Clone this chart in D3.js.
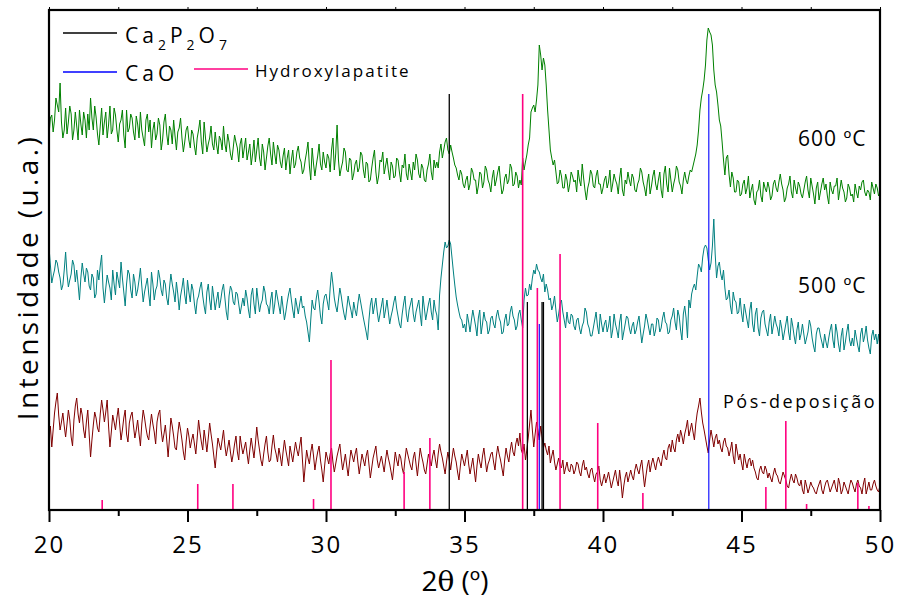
<!DOCTYPE html>
<html>
<head>
<meta charset="utf-8">
<script src="https://cdn.jsdelivr.net/npm/d3@7"></script>
<style>
  body { margin: 0; background: #fff; }
  svg text { font-family: "Open Sans", "DejaVu Sans", sans-serif; fill: #000; }
</style>
</head>
<body>
<script>
// 2theta grid of the scans: 20.00 .. 50.00 in 0.05 steps (one row = 1 degree)
const start = 20, step = 0.05;

// 600 ºC scan (green)
const scan600 = [
  375, 392, 395, 378, 390, 412, 405, 398, 427, 388, 372, 380, 402, 376, 388, 404, 396, 370, 380, 398,
  384, 370, 400, 386, 375, 398, 390, 372, 396, 380, 412, 392, 380, 404, 393, 376, 365, 384, 402, 375,
  388, 398, 372, 385, 404, 376, 380, 402, 395, 380, 368, 386, 390, 400, 375, 362, 400, 378, 382, 396,
  392, 378, 370, 394, 386, 372, 398, 380, 372, 364, 390, 396, 378, 390, 362, 380, 388, 370, 376, 392,
  385, 360, 370, 388, 396, 376, 365, 384, 380, 366, 390, 374, 360, 378, 382, 392, 372, 358, 368, 380,
  384, 370, 362, 380, 376, 364, 355, 372, 380, 390, 368, 356, 388, 372, 358, 366, 372, 384, 366, 360,
  378, 365, 356, 374, 370, 360, 384, 366, 358, 376, 368, 356, 350, 362, 375, 368, 362, 348, 366, 372,
  352, 362, 372, 350, 358, 366, 345, 356, 370, 348, 360, 372, 352, 344, 366, 358, 340, 352, 364, 372,
  356, 345, 368, 356, 346, 365, 360, 348, 342, 354, 362, 340, 352, 360, 336, 350, 360, 342, 346, 358,
  364, 352, 348, 336, 340, 350, 358, 368, 344, 330, 362, 346, 334, 345, 354, 366, 346, 340, 358, 348,
  342, 356, 352, 338, 360, 372, 340, 356, 385, 350, 334, 342, 348, 362, 358, 340, 338, 352, 350, 330,
  336, 346, 350, 338, 342, 358, 355, 340, 332, 348, 346, 328, 330, 342, 352, 360, 338, 326, 334, 350,
  348, 358, 336, 344, 352, 340, 330, 348, 344, 332, 334, 352, 350, 338, 328, 345, 342, 356, 336, 330,
  346, 338, 330, 348, 340, 356, 350, 336, 332, 346, 342, 330, 328, 340, 346, 356, 338, 330, 350, 342,
  348, 342, 358, 366, 352, 360, 368, 372, 360, 356, 365, 358, 352, 345, 342, 335, 330, 340, 336, 326,
  322, 330, 334, 320, 326, 342, 338, 330, 330, 316, 324, 338, 336, 322, 328, 344, 340, 330, 326, 318,
  332, 340, 324, 330, 338, 344, 328, 316, 320, 332, 336, 326, 330, 346, 342, 324, 326, 338, 334, 322,
  330, 325, 352, 340, 348, 355, 365, 372, 398, 402, 405, 398, 410, 425, 465, 455, 440, 452, 445, 425,
  400, 380, 360, 352, 345, 350, 338, 326, 328, 340, 334, 322, 322, 336, 330, 318, 326, 338, 334, 328,
  330, 318, 340, 330, 324, 346, 332, 320, 310, 322, 328, 340, 336, 324, 322, 334, 340, 326, 326, 316,
  322, 330, 334, 322, 328, 340, 318, 326, 336, 330, 326, 316, 332, 342, 320, 314, 330, 326, 338, 330,
  324, 336, 332, 320, 318, 326, 330, 342, 338, 328, 322, 314, 328, 336, 316, 324, 334, 340, 326, 320,
  330, 338, 320, 312, 336, 344, 326, 318, 342, 330, 318, 326, 332, 344, 340, 328, 324, 316, 330, 338,
  330, 326, 334, 340, 338, 344, 350, 356, 365, 380, 400, 412, 420, 430, 445, 470, 482, 478, 475, 465,
  440, 425, 418, 405, 390, 384, 368, 350, 335, 352, 355, 336, 323, 338, 332, 318, 318, 330, 328, 314,
  316, 326, 330, 316, 322, 334, 312, 320, 326, 310, 305, 318, 320, 330, 314, 308, 328, 322, 318, 328,
  322, 310, 314, 326, 330, 322, 318, 328, 336, 326, 320, 308, 312, 322, 326, 334, 318, 312, 330, 322,
  316, 328, 324, 316, 312, 320, 328, 334, 320, 312, 332, 324, 316, 306, 322, 328, 310, 318, 326, 332,
  320, 326, 314, 306, 328, 320, 316, 324, 324, 332, 310, 320, 330, 322, 318, 308, 312, 326, 322, 314,
  316, 308, 326, 318, 312, 324, 320, 328, 330, 318, 314, 320, 318, 310, 328, 322, 316, 326, 322, 314,
  318
];

// 500 ºC scan (teal)
const scan500 = [
  263, 245, 227, 234, 240, 250, 247, 238, 232, 220, 225, 240, 258, 236, 223, 230, 236, 250, 245, 228,
  240, 226, 210, 232, 247, 236, 228, 242, 238, 224, 220, 236, 232, 212, 216, 240, 230, 244, 255, 222,
  207, 222, 235, 228, 222, 210, 240, 226, 215, 238, 230, 222, 248, 232, 218, 204, 226, 240, 236, 220,
  212, 236, 228, 214, 220, 230, 242, 224, 208, 218, 225, 232, 216, 204, 238, 226, 210, 220, 224, 240,
  232, 220, 214, 230, 226, 212, 205, 222, 236, 226, 218, 208, 228, 216, 200, 214, 222, 232, 215, 206,
  230, 218, 208, 226, 220, 206, 196, 210, 214, 222, 228, 214, 204, 196, 218, 226, 210, 200, 224, 212,
  200, 210, 218, 202, 210, 220, 226, 212, 198, 190, 214, 224, 220, 208, 205, 218, 216, 206, 196, 204,
  212, 204, 220, 212, 200, 192, 215, 222, 206, 196, 222, 210, 198, 206, 210, 224, 218, 206, 204, 196,
  210, 218, 196, 206, 220, 212, 204, 196, 214, 202, 190, 198, 208, 216, 222, 210, 200, 192, 212, 204,
  196, 206, 214, 202, 204, 194, 188, 178, 168, 190, 210, 202, 200, 212, 220, 208, 194, 186, 206, 214,
  216, 208, 200, 222, 238, 226, 212, 204, 198, 210, 222, 214, 204, 196, 190, 202, 214, 206, 200, 192,
  208, 200, 194, 206, 216, 208, 200, 192, 185, 178, 170, 190, 205, 212, 196, 204, 212, 198, 188, 196,
  204, 212, 192, 200, 210, 198, 186, 194, 200, 208, 214, 202, 194, 186, 182, 196, 206, 214, 196, 188,
  200, 206, 212, 196, 188, 198, 204, 210, 196, 184, 214, 202, 190, 198, 206, 212, 198, 190, 210, 200,
  195, 180, 215, 232, 245, 258, 268, 262, 264, 270, 266, 252, 238, 225, 213, 205, 198, 192, 190, 182,
  186, 178, 196, 188, 178, 190, 200, 192, 184, 174, 192, 200, 176, 186, 198, 190, 188, 176, 180, 192,
  194, 186, 182, 194, 200, 192, 188, 176, 178, 190, 196, 184, 186, 198, 204, 194, 190, 180, 184, 196,
  200, 190, 182, 210, 222, 214, 215, 226, 220, 232, 240, 236, 246, 240, 238, 232, 228, 236, 218, 226,
  220, 210, 212, 200, 205, 214, 200, 188, 196, 206, 210, 198, 190, 182, 198, 188, 186, 196, 194, 184,
  180, 190, 192, 182, 176, 184, 188, 202, 198, 186, 182, 174, 174, 182, 190, 198, 184, 176, 196, 186,
  178, 186, 190, 178, 184, 194, 172, 180, 196, 186, 180, 172, 188, 196, 170, 178, 186, 194, 192, 182,
  176, 184, 188, 176, 180, 188, 194, 180, 167, 176, 184, 196, 190, 182, 175, 186, 186, 174, 180, 192,
  190, 178, 182, 192, 198, 188, 186, 176, 178, 190, 194, 202, 188, 180, 200, 194, 180, 170, 196, 204,
  192, 172, 210, 202, 216, 222, 226, 220, 234, 246, 243, 238, 253, 262, 265, 262, 250, 240, 247, 264,
  291, 256, 232, 244, 248, 236, 230, 240, 222, 210, 212, 220, 204, 196, 218, 210, 208, 196, 198, 212,
  197, 188, 206, 198, 190, 182, 200, 208, 186, 178, 196, 202, 182, 174, 192, 198, 200, 186, 180, 174,
  188, 196, 176, 184, 194, 186, 182, 174, 190, 182, 170, 178, 186, 194, 178, 170, 192, 184, 174, 166,
  180, 188, 170, 176, 186, 176, 166, 172, 178, 190, 184, 172, 164, 158, 176, 182, 182, 174, 168, 162,
  176, 168, 162, 172, 180, 186, 170, 162, 186, 178, 166, 158, 174, 182, 160, 168, 178, 186, 170, 164,
  172, 164, 180, 172, 164, 158, 176, 182, 168, 174, 184, 170, 162, 156, 174, 180, 170, 176, 166, 176,
  160
];

// as-deposited scan (dark red)
const scanPos = [
  70, 84, 63, 80, 97, 108, 117, 95, 80, 88, 97, 84, 73, 86, 100, 90, 73, 64, 90, 104,
  112, 96, 87, 102, 95, 80, 72, 88, 100, 76, 53, 70, 85, 98, 92, 82, 78, 96, 110, 100,
  88, 98, 110, 84, 63, 78, 95, 88, 80, 92, 102, 86, 70, 80, 92, 100, 76, 68, 87, 94,
  98, 84, 72, 80, 90, 76, 64, 86, 100, 92, 82, 74, 70, 84, 96, 86, 78, 66, 88, 96,
  100, 80, 68, 76, 85, 70, 53, 72, 92, 84, 74, 62, 60, 76, 88, 80, 70, 58, 50, 68,
  82, 74, 62, 70, 76, 66, 56, 72, 90, 78, 68, 60, 80, 70, 58, 72, 87, 76, 66, 54,
  42, 58, 72, 66, 60, 70, 80, 64, 54, 62, 70, 58, 48, 56, 66, 74, 58, 50, 74, 64,
  56, 62, 68, 56, 46, 60, 72, 62, 52, 66, 83, 70, 60, 50, 44, 56, 66, 74, 58, 48,
  50, 64, 75, 62, 56, 48, 62, 54, 44, 58, 70, 60, 52, 44, 64, 56, 48, 58, 68, 60,
  54, 64, 73, 50, 28, 44, 60, 52, 46, 58, 66, 54, 40, 50, 58, 64, 50, 40, 28, 44,
  58, 52, 46, 56, 62, 48, 38, 46, 54, 60, 66, 52, 40, 48, 56, 44, 34, 48, 60, 54,
  48, 56, 62, 48, 36, 46, 56, 50, 44, 54, 60, 46, 32, 42, 52, 58, 64, 50, 42, 48,
  54, 46, 38, 50, 60, 52, 46, 38, 30, 44, 58, 50, 44, 56, 52, 42, 36, 50, 62, 56,
  50, 44, 40, 52, 58, 46, 34, 48, 62, 54, 48, 40, 36, 46, 56, 50, 44, 54, 60, 50,
  42, 56, 66, 58, 52, 44, 36, 48, 58, 50, 40, 52, 62, 54, 48, 38, 30, 44, 56, 50,
  44, 52, 60, 46, 36, 44, 52, 40, 28, 44, 56, 48, 42, 54, 62, 50, 38, 46, 50, 56,
  58, 48, 40, 54, 64, 56, 50, 42, 34, 50, 62, 54, 48, 60, 68, 58, 54, 66, 72, 64,
  77, 60, 56, 66, 50, 60, 72, 86, 100, 80, 63, 76, 88, 80, 70, 84, 73, 62, 67, 60,
  55, 64, 47, 54, 60, 48, 40, 46, 52, 44, 42, 50, 36, 42, 48, 40, 38, 46, 44, 36,
  40, 48, 46, 38, 34, 44, 50, 40, 43, 36, 32, 40, 42, 34, 28, 36, 38, 44, 30, 24,
  30, 36, 27, 32, 38, 30, 22, 28, 34, 40, 30, 24, 40, 28, 12, 24, 33, 38, 28, 34,
  40, 34, 30, 40, 46, 40, 36, 44, 50, 36, 23, 34, 44, 50, 38, 46, 52, 46, 40, 48,
  53, 48, 44, 54, 60, 52, 50, 62, 66, 58, 70, 62, 58, 70, 76, 68, 80, 74, 66, 76,
  82, 90, 74, 80, 87, 78, 70, 86, 97, 104, 112, 98, 87, 80, 72, 64, 57, 70, 80, 72,
  63, 72, 76, 66, 70, 62, 58, 68, 72, 64, 62, 54, 60, 68, 54, 46, 66, 58, 50, 56,
  47, 40, 56, 48, 42, 50, 52, 44, 50, 42, 38, 32, 30, 40, 44, 38, 36, 44, 40, 32,
  37, 32, 28, 36, 42, 36, 34, 28, 26, 32, 38, 34, 30, 24, 22, 30, 36, 30, 27, 36,
  32, 26, 24, 30, 20, 16, 30, 24, 17, 22, 28, 24, 22, 18, 16, 22, 26, 30, 20, 16,
  23, 28, 30, 24, 18, 22, 26, 30, 22, 18, 32, 26, 16, 20, 28, 24, 20, 16, 24, 30,
  27, 22, 18, 26, 30, 24, 22, 16, 26, 32, 16, 22, 28, 20, 20, 26, 30, 24, 20, 18,
  25
];

// reference patterns: positions (2theta) and stick heights
const ca2p2o7Pos = [34.45, 37.27, 37.80, 37.85];
const ca2p2o7Int = [416, 208, 208, 208];
const caoPos = [37.70, 43.82];
const caoInt = [186, 416];
const hapPos = [21.92, 25.37, 26.64, 29.55, 30.18, 32.82, 33.75, 37.10, 37.63, 38.45, 39.81, 41.44, 45.88, 46.60, 47.35, 49.20, 49.60];
const hapInt = [10, 26, 26, 11, 150, 38, 72, 416, 222, 256, 87, 17, 23, 89, 6, 27, 4];

const majorTicks = [20, 25, 30, 35, 40, 45, 50];
const minorTicks = [22.5, 27.5, 32.5, 37.5, 42.5, 47.5];

const W = 897, H = 600;
const margin = { top: 10, right: 17, bottom: 90, left: 49 };

const svg = d3.select("body").append("svg")
  .attr("width", W)
  .attr("height", H);

const x = d3.scaleLinear().domain([20, 50]).range([margin.left, W - margin.right]);
const y = d3.scaleLinear().domain([0, 500]).range([H - margin.bottom, margin.top]);

const line = d3.line()
  .x(function (d, i) { return x(start + i * step); })
  .y(function (d) { return y(d); });

// scans
const scans = [
  { values: scan600, color: "#008000" },
  { values: scan500, color: "#008080" },
  { values: scanPos, color: "#800000" }
];
scans.forEach(function (s) {
  svg.append("path")
    .datum(s.values)
    .attr("fill", "none")
    .attr("stroke", s.color)
    .attr("stroke-width", 1)
    .attr("stroke-linejoin", "round")
    .attr("d", line);
});

// stick patterns
function sticks(pos, inten, color, width) {
  svg.append("g").selectAll("line")
    .data(pos)
    .enter()
    .append("line")
    .attr("x1", function (d) { return x(d); })
    .attr("x2", function (d) { return x(d); })
    .attr("y1", y(0))
    .attr("y2", function (d, i) { return y(inten[i]); })
    .attr("stroke", color)
    .attr("stroke-width", width);
}
sticks(hapPos, hapInt, "#ff0080", 1.6);
sticks(ca2p2o7Pos, ca2p2o7Int, "#000", 1.3);
sticks(caoPos, caoInt, "#0000ff", 1.1);

// axes
const bottom = H - margin.bottom;
const gx = svg.append("g")
  .attr("transform", "translate(0," + bottom + ")")
  .call(d3.axisBottom(x).tickValues(majorTicks).tickSize(12).tickPadding(14).tickFormat(d3.format("d")));
gx.select(".domain").remove();
gx.selectAll("line").attr("stroke-width", 2);
gx.selectAll("text")
  .style("font-size", "24px")
  .style("letter-spacing", "2px")
  .style("font-family", "'Open Sans', sans-serif");

const gxm = svg.append("g")
  .attr("transform", "translate(0," + bottom + ")")
  .call(d3.axisBottom(x).tickValues(minorTicks).tickSize(6).tickFormat(""));
gxm.select(".domain").remove();
gxm.selectAll("line").attr("stroke-width", 2);

const gt = svg.append("g")
  .attr("transform", "translate(0," + margin.top + ")")
  .call(d3.axisTop(x).tickValues(majorTicks.concat(minorTicks)).tickSize(3).tickFormat(""));
gt.select(".domain").remove();

// frame
svg.append("rect")
  .attr("x", margin.left)
  .attr("y", margin.top)
  .attr("width", W - margin.right - margin.left)
  .attr("height", bottom - margin.top)
  .attr("fill", "none")
  .attr("stroke", "#000")
  .attr("stroke-width", 2.2);

// axis titles
const xt = svg.append("text")
  .attr("x", 455)
  .attr("y", 591)
  .attr("text-anchor", "middle")
  .style("font-size", "28px");
xt.append("tspan").text("2");
xt.append("tspan").style("font-family", "'DejaVu Serif', serif").text("θ");
xt.append("tspan").text(" (º)");

svg.append("text")
  .attr("transform", "translate(38,277) rotate(-90)")
  .attr("text-anchor", "middle")
  .style("font-size", "28px")
  .style("letter-spacing", "3.4px")
  .text("Intensidade (u.a.)");

// legend
function legendLine(x1, x2, yy, color) {
  svg.append("line")
    .attr("x1", x1).attr("x2", x2)
    .attr("y1", yy).attr("y2", yy)
    .attr("stroke", color)
    .attr("stroke-width", 1.3);
}
legendLine(63, 117, 33, "#000");
legendLine(63, 117, 72, "#0000ff");
legendLine(194, 248, 69, "#ff0080");

const l1 = svg.append("text")
  .attr("x", 125)
  .attr("y", 43)
  .style("font-size", "21px")
  .style("letter-spacing", "4px");
[["Ca", 0], ["2", 1], ["P", 0], ["2", 1], ["O", 0], ["7", 1]].forEach(function (p, i, arr) {
  const prevSub = i > 0 ? arr[i - 1][1] : 0;
  l1.append("tspan")
    .attr("dy", (p[1] - prevSub) * 7)
    .style("font-size", p[1] ? "14px" : "21px")
    .text(p[0]);
});

svg.append("text")
  .attr("x", 125)
  .attr("y", 81)
  .style("font-size", "21px")
  .style("letter-spacing", "4px")
  .text("CaO");

svg.append("text")
  .attr("x", 255)
  .attr("y", 77)
  .style("font-size", "17px")
  .style("letter-spacing", "2px")
  .text("Hydroxylapatite");

// scan labels
const labels = [
  { text: "600 ºC", x: 798, y: 146, size: 21, ls: 1 },
  { text: "500 ºC", x: 798, y: 293, size: 21, ls: 1 },
  { text: "Pós-deposição", x: 723, y: 408, size: 18, ls: 2.5 }
];
labels.forEach(function (l) {
  svg.append("text")
    .attr("x", l.x)
    .attr("y", l.y)
    .style("font-size", l.size + "px")
    .style("letter-spacing", l.ls + "px")
    .text(l.text);
});
</script>
</body>
</html>
